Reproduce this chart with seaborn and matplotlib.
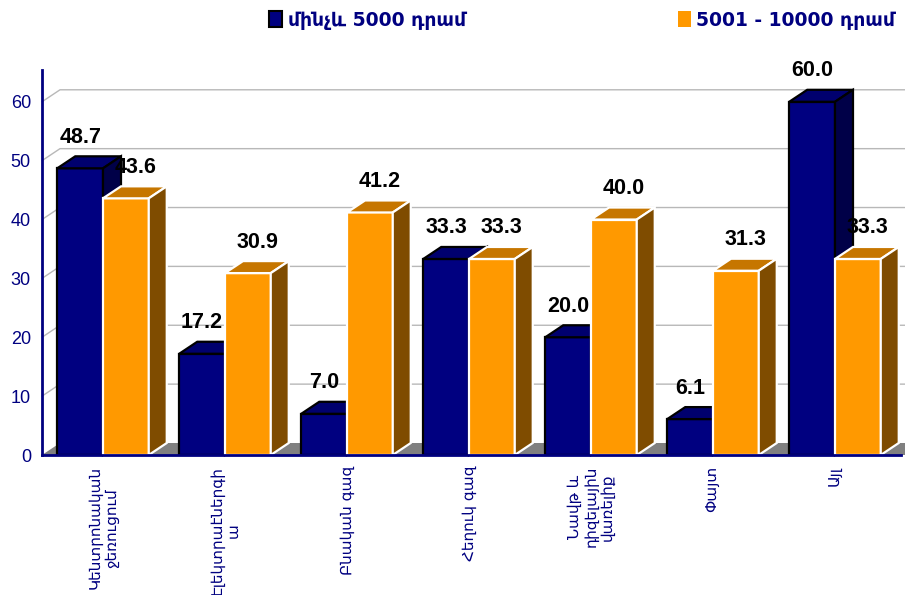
import numpy as np
import pandas as pd
import matplotlib
matplotlib.use("Agg")
import matplotlib.pyplot as plt
from matplotlib.patches import Polygon, Patch
import seaborn as sns

# ---- data ----
categories = [
    "Կենտրոնական\nջեռուցում",
    "Էլեկտրաէներգի\nա",
    "Բնական գազ",
    "Հեղուկ գազ",
    "Նավթ և\nդիզելային\nվառելիք",
    "Փայտ",
    "Այլ",
]
series_names = ["մինչև 5000 դրամ", "5001 - 10000 դրամ"]
under_5000 = [48.7, 17.2, 7.0, 33.3, 20.0, 6.1, 60.0]
from_5001_to_10000 = [43.6, 30.9, 41.2, 33.3, 40.0, 31.3, 33.3]
y_ticks = [0, 10, 20, 30, 40, 50, 60]

df = pd.DataFrame({
    "category": categories * 2,
    "share": under_5000 + from_5001_to_10000,
    "group": [series_names[0]] * len(categories) + [series_names[1]] * len(categories),
})

# ---- style ----
NAVY = "#000080"
front = {series_names[0]: "#000080", series_names[1]: "#FF9900"}
top_col = ["#00006E", "#C67600"]
side_col = ["#000048", "#7F4C00"]
edge_col = ["black", "white"]

sns.set_theme(style="white")
plt.rcParams["font.family"] = ["DejaVu Sans"]

W, H = 905, 595
fig = plt.figure(figsize=(W / 100, H / 100), dpi=100)
x0_px, x1_px = 42, 896
y0_px, ytop_px = 455, 70
ax = fig.add_axes([x0_px / W, (H - y0_px) / H, (x1_px - x0_px) / W, (y0_px - ytop_px) / H])
ax.set_facecolor("white")

YMAX = 65.4
ax.set_xlim(-0.5, 6.5)
ax.set_ylim(0, YMAX)

# depth of the pseudo-3D effect, in data units
px_per_x = (x1_px - x0_px) / 7.0
px_per_y = (y0_px - ytop_px) / YMAX
DX = 18 / px_per_x
DY = 12 / px_per_y
x_right = -0.5 + (W - x0_px) / px_per_x

# back wall grid
for v in y_ticks[1:]:
    ax.plot([-0.5, -0.5 + DX, x_right], [v, v + DY, v + DY],
            color="#B8B8B8", lw=1.0, zorder=0.5, clip_on=False)

# floor
ax.add_patch(Polygon([(-0.5, 0), (x_right, 0), (x_right, DY), (-0.5 + DX, DY)],
                     closed=True, facecolor="#808080", edgecolor="none",
                     zorder=0.8, clip_on=False))

# front faces of the bars
sns.barplot(data=df, x="category", y="share", hue="group", palette=front,
            width=0.75, saturation=1, legend=False, ax=ax, zorder=2)

for i, cont in enumerate(ax.containers):
    z = 2 + i
    for bar in cont.patches:
        bar.set_edgecolor(edge_col[i])
        bar.set_linewidth(1.6)
        bar.set_zorder(z)
        bx0 = bar.get_x()
        bx1 = bx0 + bar.get_width()
        h = bar.get_height()
        top = Polygon([(bx0, h), (bx1, h), (bx1 + DX, h + DY), (bx0 + DX, h + DY)],
                      closed=True, facecolor=top_col[i], edgecolor=edge_col[i],
                      lw=1.6, zorder=z + 0.1, clip_on=False, joinstyle="miter")
        side = Polygon([(bx1, 0), (bx1 + DX, DY), (bx1 + DX, h + DY), (bx1, h)],
                       closed=True, facecolor=side_col[i], edgecolor=edge_col[i],
                       lw=1.6, zorder=z + 0.1, clip_on=False, joinstyle="miter")
        ax.add_patch(top)
        ax.add_patch(side)
        xs = bx0 + bar.get_width() / 2 + (10 / px_per_x if i == 1 else 0)
        ax.text(xs, h + DY + 19 / px_per_y, f"{h:.1f}", ha="center", va="center",
                fontsize=15.5, fontweight="bold", family="Liberation Sans",
                color="black", zorder=10, clip_on=False)

ax.set_xlim(-0.5, 6.5)
ax.set_ylim(0, YMAX)

# axes
for s in ["top", "right"]:
    ax.spines[s].set_visible(False)
for s in ["left", "bottom"]:
    ax.spines[s].set_color(NAVY)
    ax.spines[s].set_linewidth(2)
    ax.spines[s].set_zorder(5)
ax.spines["bottom"].set_bounds(-0.5, x_right - 0.03)

ax.set_yticks(y_ticks)
ax.set_yticklabels([str(v) for v in y_ticks], family="Liberation Sans",
                   fontsize=13, color=NAVY)
ax.tick_params(axis="y", direction="out", length=6, width=1.5, color=NAVY, pad=2)

ax.set_xticks(np.arange(-0.5, 7.0, 1.0))
ax.set_xticklabels([])
ax.set_xticks(np.arange(7), minor=True)
ax.set_xticklabels(categories, minor=True, rotation=90, ha="center", va="top",
                   multialignment="center", fontsize=11, color=NAVY,
                   family="DejaVu Sans", linespacing=1.1)
ax.tick_params(axis="x", which="major", direction="out", length=7, width=1.5, color=NAVY)
ax.tick_params(axis="x", which="minor", length=0, pad=8)
ax.set_xlabel("")
ax.set_ylabel("")
ax.grid(False)

# legend
handles = [Patch(facecolor=front[series_names[0]], edgecolor="black", lw=1.5),
           Patch(facecolor=front[series_names[1]], edgecolor="none")]
fig.legend(handles, series_names, loc="center", bbox_to_anchor=(582 / W, 1 - 20 / H),
           ncol=2, frameon=False, handlelength=0.7, handleheight=1.0, handletextpad=0.3,
           columnspacing=11.3, prop={"family": "DejaVu Sans", "weight": "bold", "size": 13.5},
           labelcolor=NAVY)

fig.savefig("out.png", dpi=100)
